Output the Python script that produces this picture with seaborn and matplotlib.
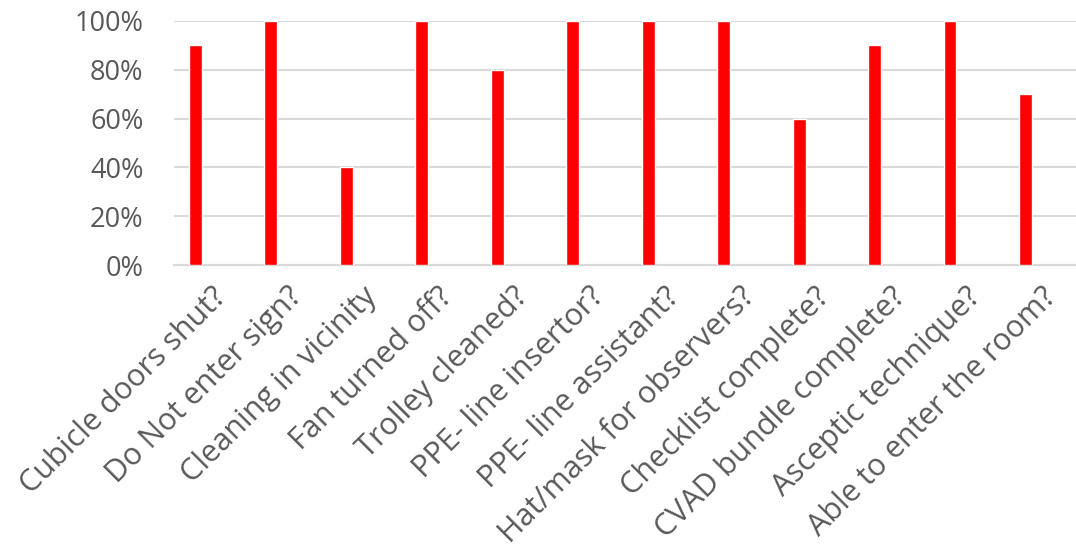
import numpy as np
import pandas as pd
import matplotlib
matplotlib.use("Agg")
import matplotlib.pyplot as plt
import seaborn as sns
from matplotlib.ticker import PercentFormatter

categories = [
    "Cubicle doors shut?",
    "Do Not enter sign?",
    "Cleaning in vicinity",
    "Fan turned off?",
    "Trolley cleaned?",
    "PPE- line insertor?",
    "PPE- line assistant?",
    "Hat/mask for observers?",
    "Checklist complete?",
    "CVAD bundle complete?",
    "Asceptic technique?",
    "Able to enter the room?",
]
compliance = [90, 100, 40, 100, 80, 100, 100, 100, 60, 90, 100, 70]
y_ticks = [0, 20, 40, 60, 80, 100]

sns.set_theme(style="white")
plt.rcParams["font.family"] = ["Open Sans", "DejaVu Sans"]

df = pd.DataFrame({"item": categories, "pct": compliance})

fig = plt.figure(figsize=(10.76, 5.5), dpi=100)
ax = fig.add_axes([0.1617, 0.518, 0.8383, 0.4440])

sns.barplot(data=df, x="item", y="pct", color="#ff0000", saturation=1,
            width=0.172, ax=ax, zorder=3)

grey = "#595959"
grid_c = "#d9d9d9"
ax.set_ylim(0, 100)
ax.set_yticks(y_ticks)
ax.yaxis.set_major_formatter(PercentFormatter(decimals=0))
ax.set_xlim(-0.285, 11.67)
ax.yaxis.grid(True, color=grid_c, linewidth=1.5, zorder=0)
ax.set_axisbelow(True)
for side in ["left", "right", "top"]:
    ax.spines[side].set_visible(False)
ax.spines["bottom"].set_color(grid_c)
ax.spines["bottom"].set_linewidth(1.5)

# labels sit at the centre of each category slot
offset = 0.21
ax.set_xticks(np.arange(len(categories)) + offset)
ax.set_xticklabels(categories, rotation=45, ha="right", va="top",
                   rotation_mode="anchor")
ax.tick_params(axis="x", length=0, pad=12, labelsize=22, labelcolor=grey)
ax.tick_params(axis="y", length=0, pad=22, labelsize=19.5, labelcolor=grey)
ax.set_xlabel("")
ax.set_ylabel("")

fig.savefig("out.png", dpi=100)
